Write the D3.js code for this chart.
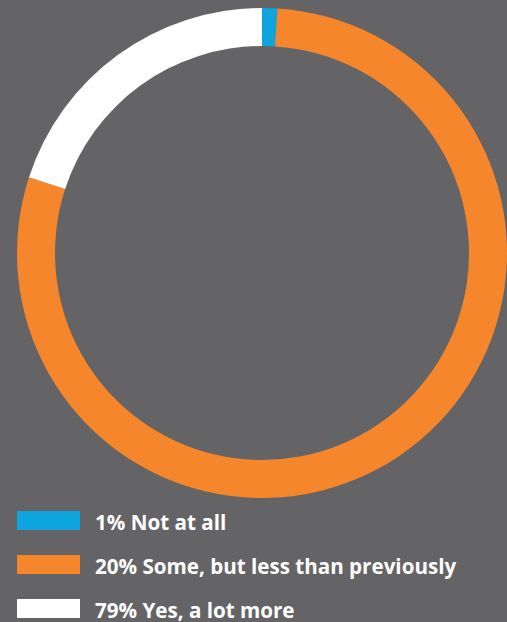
<!DOCTYPE html>
<html>
<head>
<meta charset="utf-8">
<script src="https://cdn.jsdelivr.net/npm/d3@7/dist/d3.min.js"></script>
<style>
  html, body { margin: 0; padding: 0; background: #646466; }
  svg { display: block; }
</style>
</head>
<body>
<svg id="chart" width="507" height="622"></svg>
<script>
// Legend entries (in legend order)
const categories = ["Not at all", "Some, but less than previously", "Yes, a lot more"];
const percents = [1, 20, 79];
const legendColors = ["#0ea5df", "#f5862b", "#ffffff"];

// Ring segments, clockwise from 12 o'clock
const ringValues = [1, 79, 20];
const ringColors = ["#0ea5df", "#f5862b", "#ffffff"];

const svg = d3.select("#chart");
const cx = 262, cy = 253, outerR = 245, innerR = 207;

const pie = d3.pie().sort(null).value(d => d);
const arc = d3.arc().innerRadius(innerR).outerRadius(outerR);

svg.append("g")
  .attr("transform", `translate(${cx},${cy})`)
  .selectAll("path")
  .data(pie(ringValues))
  .join("path")
  .attr("d", arc)
  .attr("fill", (d, i) => ringColors[i]);

// Legend
const legendY = d3.scaleBand().domain(d3.range(categories.length)).range([511, 643]).paddingInner(0);
const legend = svg.append("g");
const rows = legend.selectAll("g")
  .data(categories)
  .join("g")
  .attr("transform", (d, i) => `translate(17,${legendY(i)})`);

rows.append("rect")
  .attr("width", 63)
  .attr("height", 19)
  .attr("fill", (d, i) => legendColors[i]);

rows.append("text")
  .attr("x", 78)
  .attr("y", 18.5)
  .attr("fill", "#ffffff")
  .attr("font-family", "'Open Sans', Lato, sans-serif")
  .attr("font-weight", 700)
  .attr("font-size", 20.6)
  .text((d, i) => `${percents[i]}% ${d}`);
</script>
</body>
</html>
